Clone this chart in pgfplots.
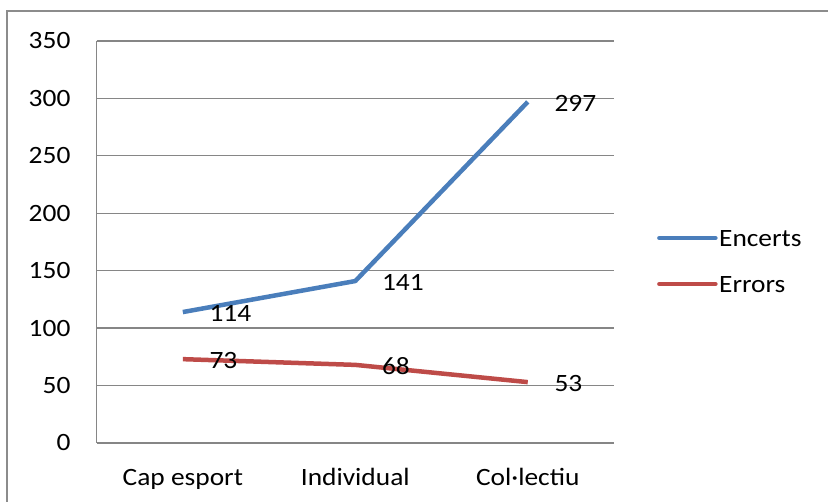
\documentclass[border=0pt]{standalone}
\usepackage{fontspec}
\setmainfont{Carlito}[FakeStretch=1.1]
\usepackage{pgfplots}
\pgfplotsset{compat=1.18}
\definecolor{encblue}{HTML}{4A7EBB}
\definecolor{errred}{HTML}{BE4B48}
\definecolor{gridgray}{HTML}{868686}
\definecolor{framegray}{HTML}{8C8C8C}

\begin{document}
\begin{tikzpicture}[x=1bp,y=1bp]
\useasboundingbox (0,0) rectangle (828,502);
% outer chart frame (runs off the right and bottom edges)
\draw[framegray, line width=2.2bp] (7,-5) -- (7,491) -- (835,491);

\begin{axis}[
  at={(96.6bp,59bp)}, anchor=south west,
  scale only axis, width=517.4bp, height=402bp,
  xmin=-0.5, xmax=2.5,
  ymin=0, ymax=350,
  ytick={0,50,...,350},
  xtick={0,1,2},
  xticklabels={Cap esport, Individual, Col·lectiu},
  axis lines=left,
  axis line style={-, gridgray, line width=1.3bp},
  ymajorgrids,
  grid style={gridgray, line width=1.3bp},
  major tick length=0pt,
  /pgf/number format/assume math mode=true,
  tick label style={font=\fontsize{25}{30}\selectfont, text=black, inner sep=0pt},
  yticklabel style={anchor=east, xshift=-26bp},
  xticklabel style={anchor=base, yshift=-43bp},
  nodes near coords,
  nodes near coords style={anchor=west, inner sep=0pt, xshift=24.5bp, yshift=-1.5bp,
    text=black, font=\fontsize{25}{30}\selectfont},
  legend style={draw=none, fill=none, at={(1.083,0.4527)}, anchor=west,
    font=\fontsize{25}{30}\selectfont, row sep=30bp, inner sep=0pt,
    nodes={inner xsep=1.5bp, inner ysep=0pt, text height=16bp, text depth=0bp}},
  legend cell align=left,
  legend image code/.code={\draw[#1, line width=4.5bp, line cap=round] (2bp,0bp) -- (58bp,0bp);},
]
\addplot[encblue, line width=4.5bp, line join=round] coordinates {(0,114) (1,141) (2,297)};
\addlegendentry{Encerts}
\addplot[errred, line width=4.5bp, line join=round] coordinates {(0,73) (1,68) (2,53)};
\addlegendentry{Errors}
\end{axis}
\end{tikzpicture}
\end{document}
